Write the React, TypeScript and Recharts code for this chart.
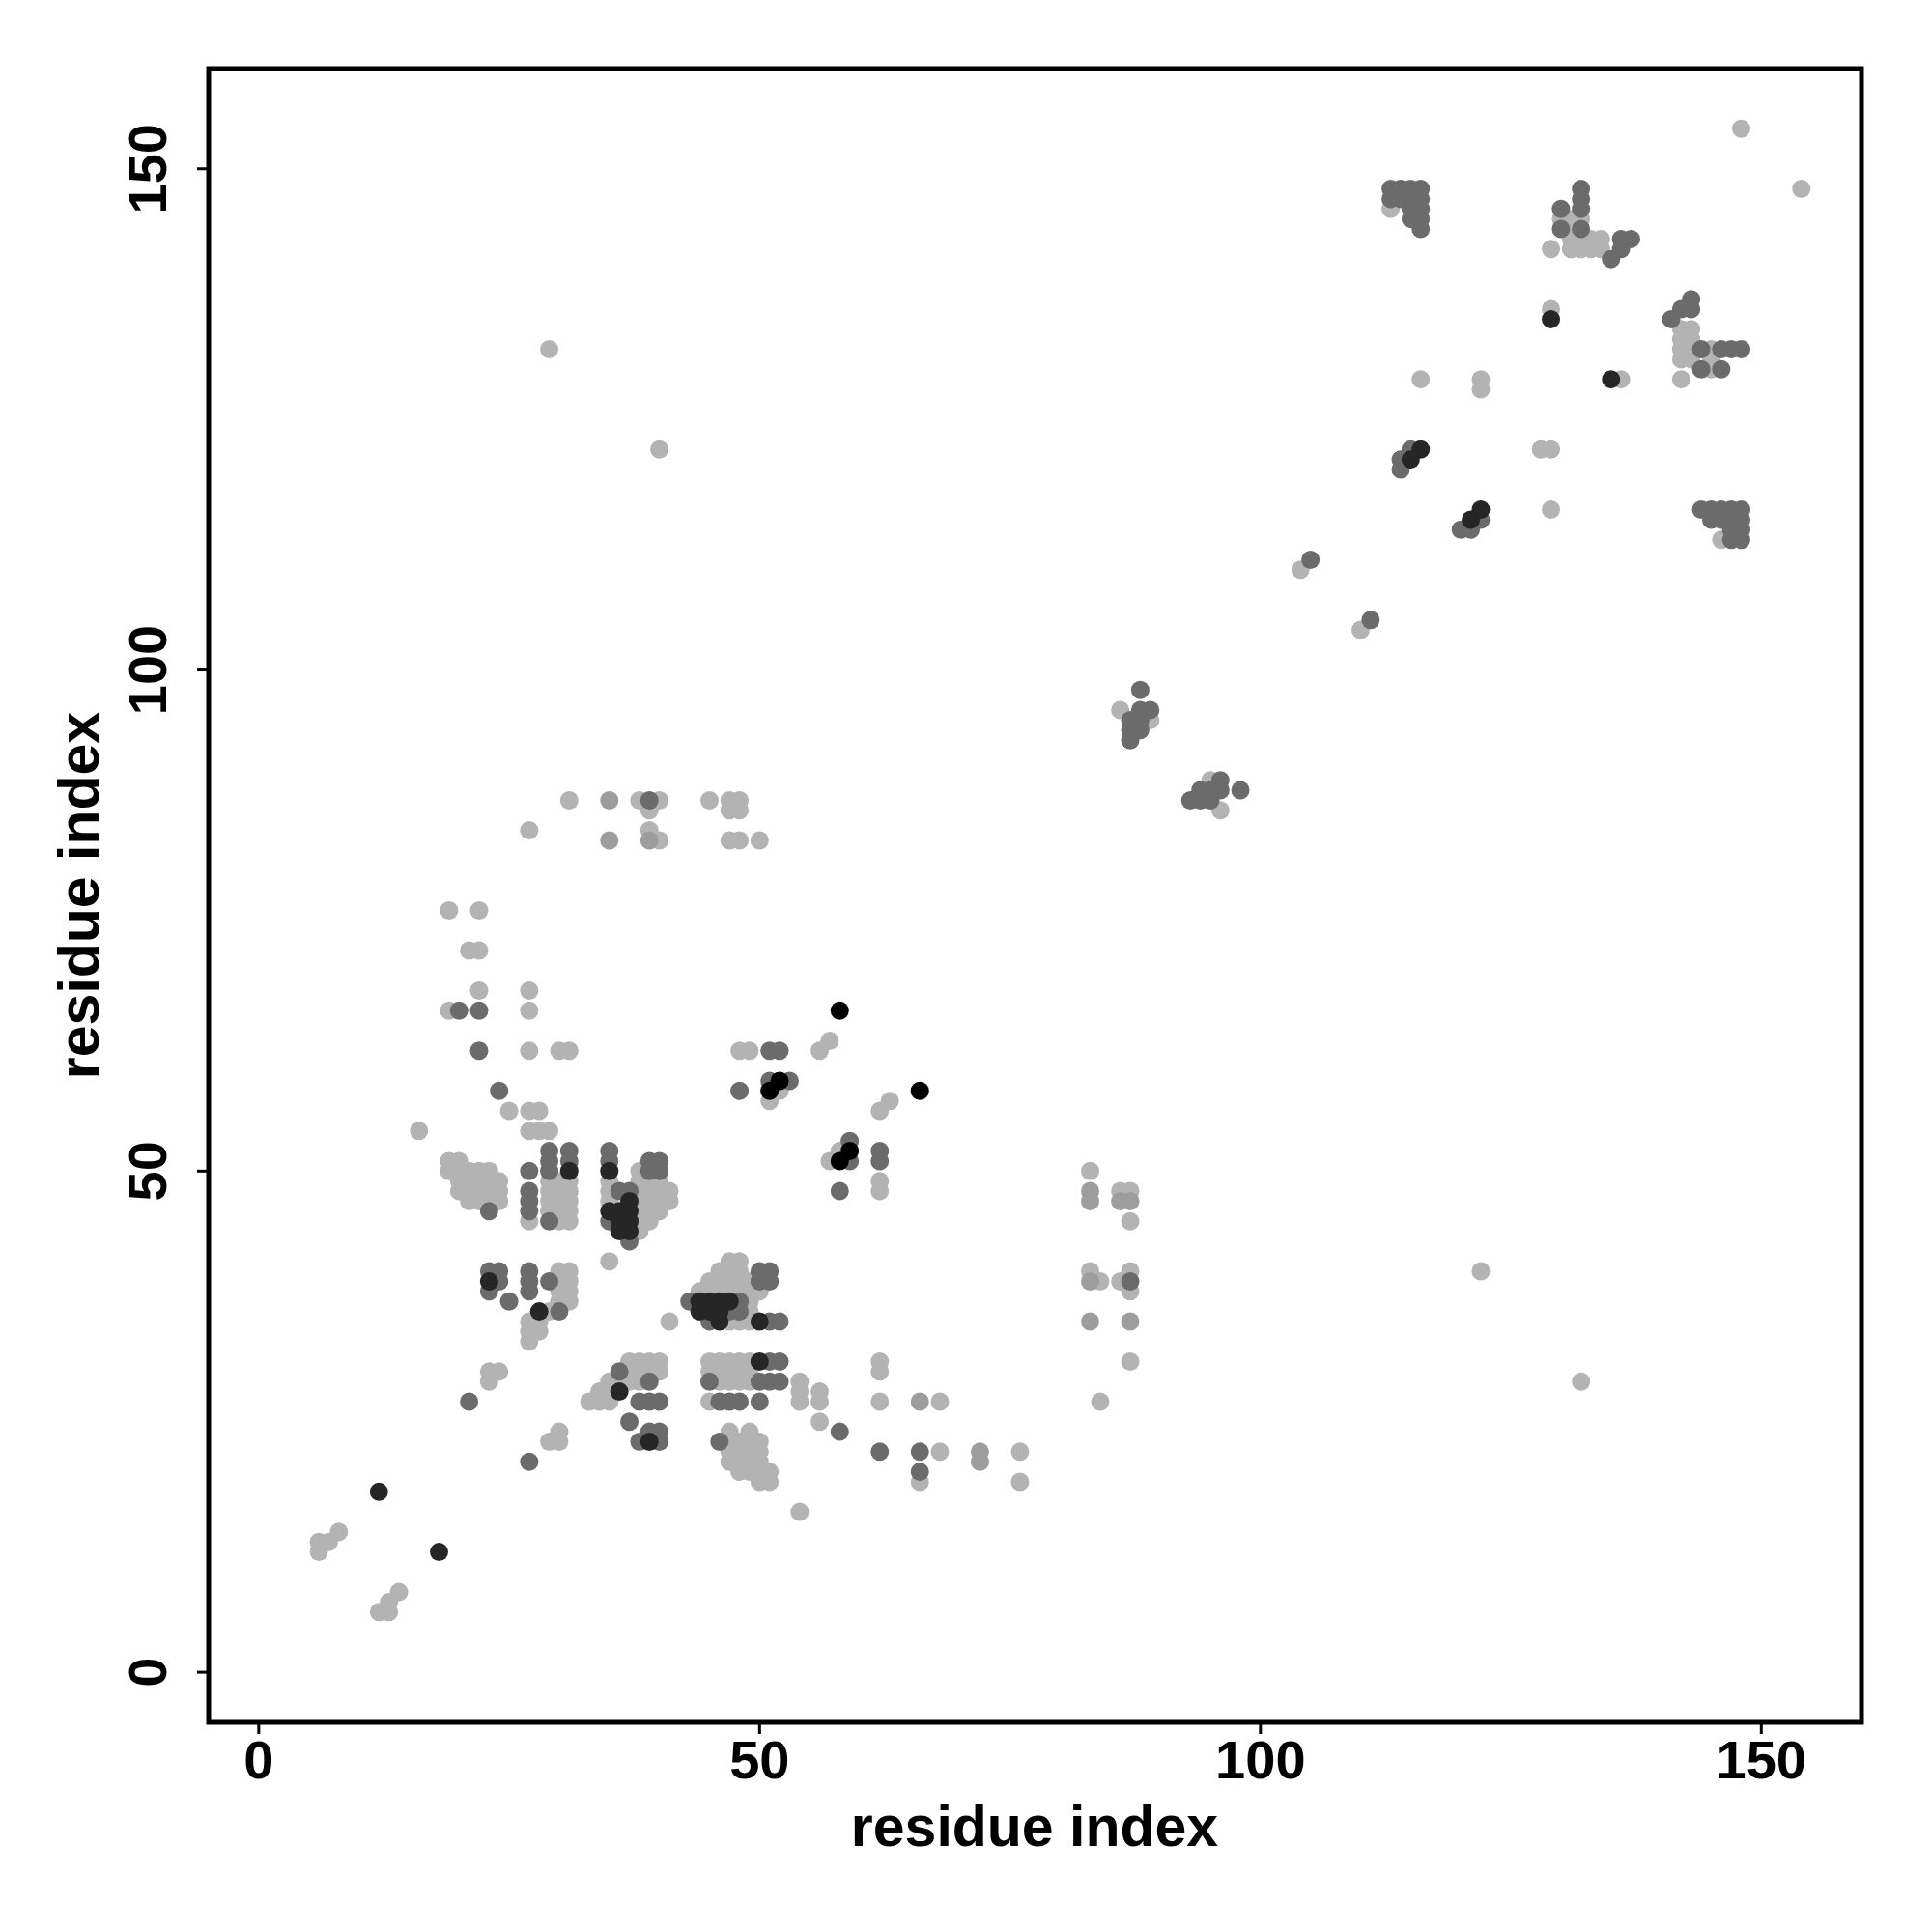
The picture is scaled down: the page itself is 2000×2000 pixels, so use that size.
import React from 'react';
import { ScatterChart, Scatter, XAxis, YAxis, ReferenceArea } from 'recharts';

// contact map, points are [residue i, residue j], grouped by shade
const lightPts = [
  [6, 12], [6, 13], [7, 13], [8, 14], [12, 6], [13, 6], [13, 7], [14, 8],
  [23, 29], [23, 30], [24, 30], [27, 33], [27, 34], [28, 34], [29, 23], [30, 23], [30, 24],
  [33, 27], [34, 27], [35, 27], [34, 28], [35, 28], [35, 29], [36, 29],
  [37, 31], [38, 31], [39, 31], [40, 31], [37, 30], [38, 30], [39, 30], [40, 30], [37, 29], [38, 29],
  [45, 31], [46, 31], [47, 31], [48, 31], [49, 31], [45, 30], [46, 30], [47, 30], [48, 30], [49, 30],
  [46, 29], [47, 29], [48, 29], [49, 29], [45, 27],
  [54, 27], [54, 28], [54, 29], [56, 27], [56, 28], [56, 25], [62, 27], [62, 30], [62, 31],
  [47, 24], [49, 24], [47, 23], [48, 23], [49, 23], [50, 23], [47, 22], [48, 22], [49, 22], [50, 22],
  [47, 21], [48, 21], [49, 21], [50, 21], [48, 20], [49, 20], [50, 20], [51, 20], [50, 19], [51, 19],
  [54, 16], [68, 27], [68, 22], [66, 19], [76, 22], [76, 19],
  [84, 27], [83, 50], [86, 48], [87, 48], [87, 45], [83, 40], [84, 39], [86, 39], [87, 40], [87, 38], [87, 31],
  [41, 35], [35, 41],
  [47, 41], [48, 41], [46, 40], [47, 40], [48, 40], [45, 39], [46, 39], [47, 39], [48, 39], [49, 39],
  [44, 38], [45, 38], [46, 38], [47, 38], [48, 38], [49, 38], [50, 38], [49, 37], [49, 36],
  [47, 35], [48, 35], [49, 35],
  [27, 62], [30, 62], [31, 62], [25, 56], [27, 56], [28, 56], [16, 54], [27, 54], [28, 54], [29, 54],
  [19, 51], [20, 51], [19, 50], [20, 50], [21, 50], [22, 50], [23, 50],
  [20, 49], [21, 49], [22, 49], [23, 49], [24, 49], [20, 48], [21, 48], [22, 48], [23, 48], [24, 48],
  [21, 47], [22, 47], [23, 47], [24, 47], [27, 45],
  [29, 49], [30, 49], [31, 49], [29, 48], [30, 48], [31, 48], [29, 47], [30, 47], [31, 47],
  [29, 46], [30, 46], [31, 46], [30, 45], [31, 45], [35, 49], [35, 48], [35, 47],
  [38, 50], [38, 49], [38, 48], [38, 47], [38, 46], [38, 45], [38, 44],
  [39, 49], [40, 49], [39, 48], [40, 48], [41, 48], [39, 47], [40, 47], [41, 47], [39, 46], [40, 46], [39, 45],
  [27, 35], [28, 35], [29, 36],
  [30, 40], [31, 40], [30, 39], [31, 39], [30, 38], [31, 38], [30, 37], [31, 37],
  [48, 62], [49, 62], [56, 62], [57, 63], [52, 58], [51, 57], [62, 56], [63, 57], [57, 51], [58, 52], [62, 49], [62, 48],
  [31, 87], [38, 87], [40, 87], [39, 86], [45, 87], [47, 87], [48, 87], [47, 86], [48, 86],
  [27, 84], [39, 84], [40, 83], [47, 83], [48, 83], [50, 83],
  [19, 76], [22, 76], [21, 72], [22, 72], [22, 68], [27, 68], [19, 66], [27, 66],
  [86, 96], [89, 95], [95, 89], [96, 86],
  [104, 110], [110, 104], [128, 122], [129, 122], [129, 116], [113, 146],
  [130, 145], [131, 145], [132, 145], [131, 144], [129, 142], [131, 143], [132, 143], [133, 143], [134, 143],
  [131, 142], [132, 142], [133, 142], [134, 142],
  [129, 136], [116, 129], [122, 129], [122, 128], [136, 129],
  [142, 134], [143, 134], [142, 133], [143, 133], [142, 132], [143, 132], [142, 131], [143, 131],
  [145, 132], [145, 131], [145, 130], [142, 129], [146, 113],
  [148, 154], [154, 148], [29, 132], [40, 122], [122, 40], [132, 29],
];

const midLightPts = [
  [35, 87], [39, 83], [35, 83], [83, 48], [83, 47], [86, 47], [87, 47], [83, 39], [83, 35], [87, 35],
  [66, 27], [72, 22], [72, 21],
];

const mediumPts = [
  [21, 27], [27, 21],
  [43, 37], [50, 40], [51, 40], [50, 39], [51, 39], [48, 37], [48, 36], [47, 36], [45, 35], [51, 35], [52, 35],
  [36, 30], [39, 29], [38, 27], [39, 27], [40, 27], [37, 25], [39, 24], [40, 24], [38, 23], [40, 23],
  [51, 31], [52, 31], [45, 29], [50, 29], [51, 29], [52, 29], [46, 27], [47, 27], [48, 27], [50, 27],
  [58, 24], [62, 22], [46, 23], [66, 22], [66, 20],
  [22, 62], [24, 58], [23, 46], [27, 50], [27, 48], [27, 47], [27, 46],
  [29, 52], [29, 51], [29, 50], [31, 52], [31, 51], [29, 45], [35, 52], [35, 51], [35, 45],
  [36, 48], [37, 48], [37, 43], [39, 51], [40, 51], [39, 50], [40, 50],
  [23, 40], [24, 40], [24, 39], [23, 38], [25, 37], [27, 40], [27, 39], [27, 38], [29, 39], [30, 36],
  [51, 62], [52, 62], [48, 58], [51, 59], [53, 59], [59, 53], [59, 51], [58, 48], [62, 52], [62, 51],
  [39, 87], [20, 66], [22, 66], [87, 39],
  [88, 98], [88, 96], [89, 96], [87, 95], [87, 94], [87, 93], [88, 94], [88, 95],
  [93, 87], [94, 87], [95, 87], [94, 88], [95, 88], [96, 89], [96, 88], [98, 88],
  [105, 111], [111, 105], [115, 122], [114, 121], [114, 120], [122, 115], [120, 114], [121, 114],
  [113, 148], [114, 148], [115, 148], [116, 148], [113, 147], [114, 147], [115, 147], [116, 147],
  [115, 146], [116, 146], [115, 145], [116, 145], [116, 144],
  [132, 148], [132, 147], [132, 146], [130, 146], [130, 144], [132, 144],
  [136, 143], [137, 143], [136, 142], [135, 141],
  [143, 137], [142, 136], [143, 136], [141, 135], [144, 132], [146, 132], [147, 132], [148, 132], [144, 130], [146, 130],
  [144, 116], [145, 116], [146, 116], [147, 116], [148, 116], [145, 115], [146, 115], [147, 115], [148, 115],
  [147, 114], [148, 114], [147, 113], [148, 113],
];

const darkPts = [
  [12, 18], [18, 12],
  [44, 37], [45, 37], [46, 37], [47, 37], [44, 36], [45, 36], [46, 36], [46, 35], [50, 35],
  [36, 28], [39, 23], [50, 31],
  [31, 50], [35, 50], [35, 46], [36, 46], [36, 45], [36, 44], [37, 47], [37, 46], [37, 45], [37, 44],
  [23, 39], [28, 36],
  [116, 122], [115, 121], [122, 116], [121, 115], [129, 135], [135, 129],
];

const blackPts = [[52, 59], [51, 58], [58, 51], [59, 52], [58, 66], [66, 58]];

const xTicks = [0, 50, 100, 150];
const yTicks = [0, 50, 100, 150];

const FONT = '"Liberation Sans", Arial, Helvetica, sans-serif';

const toRows = (pts) => pts.map(([x, y]) => ({ x, y }));

const dot = (color) => (props) => (
  <circle cx={props.cx} cy={props.cy} r={9.5} fill={color} />
);

const XTick = ({ x, y, payload }) => (
  <text x={x} y={y + 46} textAnchor="middle" fontSize={56} fontWeight="bold" fontFamily={FONT} fill="#000">
    {payload.value}
  </text>
);

const YTick = ({ x, y, payload }) => {
  const bx = x - 32;
  return (
    <text x={bx} y={y} transform={`rotate(-90, ${bx}, ${y})`} textAnchor="middle" fontSize={56}
      fontWeight="bold" fontFamily={FONT} fill="#000">
      {payload.value}
    </text>
  );
};

const series = [
  { name: 'light', pts: lightPts, color: '#b3b3b3' },
  { name: 'midlight', pts: midLightPts, color: '#9d9d9d' },
  { name: 'medium', pts: mediumPts, color: '#6b6b6b' },
  { name: 'dark', pts: darkPts, color: '#262626' },
  { name: 'black', pts: blackPts, color: '#000000' },
];

const App = () => {
  return (
    <div style={{ position: 'absolute', left: 0, top: 0, background: '#fff' }}>
      <ScatterChart width={2000} height={2000} margin={{ top: 71, right: 73, left: 16, bottom: 17 }}>
        <XAxis
          type="number"
          dataKey="x"
          domain={[-5, 160]}
          ticks={xTicks}
          allowDataOverflow
          axisLine={false}
          tickLine={{ stroke: '#000', strokeWidth: 3 }}
          tickSize={12}
          tickMargin={0}
          height={200}
          tick={<XTick />}
        />
        <YAxis
          type="number"
          dataKey="y"
          domain={[-5, 160]}
          ticks={yTicks}
          allowDataOverflow
          axisLine={false}
          tickLine={{ stroke: '#000', strokeWidth: 3 }}
          tickSize={12}
          tickMargin={0}
          width={200}
          tick={<YTick />}
        />
        <ReferenceArea x1={-5} x2={160} y1={-5} y2={160} fill="none" stroke="#000" strokeWidth={5} ifOverflow="visible" />
        {series.map((s) => (
          <Scatter key={s.name} data={toRows(s.pts)} shape={dot(s.color)} isAnimationActive={false} />
        ))}
        <text x={1071} y={1911} textAnchor="middle" fontSize={59} fontWeight="bold" fontFamily={FONT} fill="#000">
          residue index
        </text>
        <text x={102} y={927} transform="rotate(-90, 102, 927)" textAnchor="middle" fontSize={59}
          fontWeight="bold" fontFamily={FONT} fill="#000">
          residue index
        </text>
      </ScatterChart>
    </div>
  );
};

export default App;
